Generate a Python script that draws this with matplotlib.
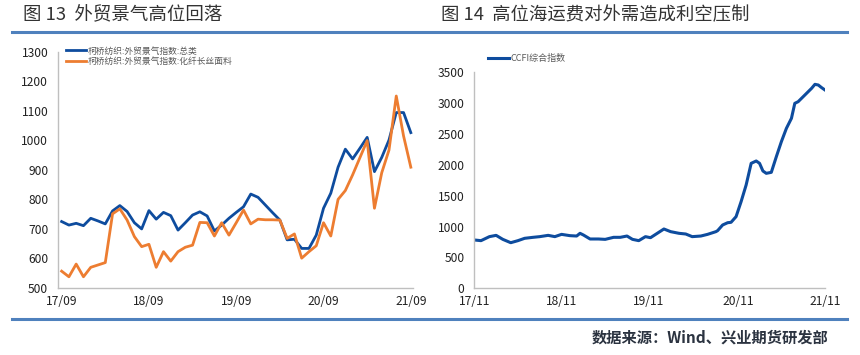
import matplotlib
matplotlib.use('Agg')
import matplotlib.pyplot as plt
from matplotlib.lines import Line2D
import pandas as pd

plt.rcParams['font.family'] = ['Noto Sans CJK SC', 'DejaVu Sans']

# 图13 柯桥纺织外贸景气指数 (月度, 17/09 - 21/09)
keqiao_labels = ['17/09', '18/09', '19/09', '20/09', '21/09']
keqiao_total = [725, 713, 719, 711, 736, 727, 717, 761, 779, 759, 721, 700,
                762, 733, 756, 745, 696, 721, 747, 758, 744, 693, 713, 736,
                756, 775, 818, 807, 781, 755, 730, 663, 665, 634, 634, 679,
                770, 821, 909, 970, 937, 973, 1010, 894, 942, 1001, 1094, 1094,
                1026]
keqiao_fiber = [557, 538, 581, 538, 570, 578, 586, 751, 768, 730, 674, 640,
                648, 570, 623, 591, 623, 638, 645, 722, 721, 676, 721, 679,
                721, 764, 717, 733, 731, 731, 730, 668, 683, 601, 623, 643,
                721, 676, 800, 830, 883, 941, 999, 770, 890, 967, 1150, 1015,
                909]

# 图14 CCFI综合指数
ccfi_dates = ['2017-11-03', '2017-12-01', '2018-01-05', '2018-02-02', '2018-03-02',
              '2018-04-04', '2018-05-04', '2018-06-01', '2018-07-06', '2018-08-03',
              '2018-09-07', '2018-10-05', '2018-11-02', '2018-12-07', '2019-01-04',
              '2019-01-18', '2019-02-01', '2019-03-01', '2019-04-05', '2019-05-03',
              '2019-06-07', '2019-07-05', '2019-08-02', '2019-08-25', '2019-09-20',
              '2019-10-18', '2019-11-08', '2020-01-03', '2020-01-31', '2020-03-06',
              '2020-04-03', '2020-04-30', '2020-06-05', '2020-07-03', '2020-08-07',
              '2020-08-14', '2020-09-04', '2020-09-25', '2020-10-09', '2020-10-30',
              '2020-11-20', '2020-12-11', '2021-01-01', '2021-01-22', '2021-02-05',
              '2021-02-19', '2021-03-05', '2021-03-26', '2021-04-16', '2021-05-07',
              '2021-05-28', '2021-06-18', '2021-07-02', '2021-07-16', '2021-08-06',
              '2021-08-27', '2021-09-10', '2021-09-24', '2021-10-08', '2021-10-22',
              '2021-11-05']
ccfi_values = [783, 772, 837, 858, 793, 739, 772, 810, 826, 837, 858, 837,
               874, 853, 847, 891, 864, 799, 799, 793, 826, 826, 847, 793, 772,
               837, 820, 961, 918, 891, 880, 837, 847, 874, 918, 934, 1026, 1063,
               1069, 1161, 1404, 1674, 2025, 2063, 2025, 1901, 1863, 1879, 2133,
               2376, 2592, 2754, 2997, 3024, 3105, 3186, 3240, 3305, 3294, 3251,
               3213]
ccfi_ticks = ['2017-11-03', '2018-11-02', '2019-11-01', '2020-11-06', '2021-11-05']
ccfi_labels = ['17/11', '18/11', '19/11', '20/11', '21/11']

W, H = 860, 355
blue = '#0e4c9e'
orange = '#ed7d31'
rule = '#4f81bd'
txt = '#333333'

fig = plt.figure(figsize=(W / 100, H / 100), dpi=100)


def style(ax):
    for s in ['top', 'right']:
        ax.spines[s].set_visible(False)
    for s in ['left', 'bottom']:
        ax.spines[s].set_color('#bfbfbf')
        ax.spines[s].set_linewidth(1)
    ax.tick_params(length=0, labelsize=8.7, colors='#222222')
    ax.tick_params(axis='y', pad=7)
    ax.tick_params(axis='x', pad=5)


ax1 = fig.add_axes([58 / W, 1 - 288 / H, 355 / W, 236.3 / H])
x = list(range(len(keqiao_total)))
ax1.plot(x, keqiao_total, color=blue, lw=2, label='柯桥纺织:外贸景气指数:总类')
ax1.plot(x, keqiao_fiber, color=orange, lw=2, label='柯桥纺织:外贸景气指数:化纤长丝面料')
ax1.set_xlim(-0.5, 48.3)
ax1.set_ylim(500, 1300)
ax1.set_yticks(range(500, 1301, 100))
ax1.set_xticks([0, 12, 24, 36, 48])
ax1.set_xticklabels(keqiao_labels)
style(ax1)
ax1.legend(loc='upper left', bbox_to_anchor=(66 / W, 1 - 46.5 / H),
           bbox_transform=fig.transFigure, frameon=False, fontsize=6.3,
           handlelength=2.3, handletextpad=0.2, labelspacing=0.15,
           borderpad=0, borderaxespad=0, labelcolor='#595959')

ax2 = fig.add_axes([474.3 / W, 1 - 288.3 / H, 350.7 / W, 216 / H])
d = pd.to_datetime(ccfi_dates)
ax2.plot(d, ccfi_values, color=blue, lw=2.2, label='CCFI综合指数')
ax2.set_xlim(pd.Timestamp('2017-11-03'), pd.Timestamp('2021-11-05'))
ax2.set_ylim(0, 3500)
ax2.set_yticks(range(0, 3501, 500))
ax2.set_xticks(pd.to_datetime(ccfi_ticks))
ax2.set_xticklabels(ccfi_labels)
style(ax2)
ax2.legend(loc='upper left', bbox_to_anchor=(488 / W, 1 - 54 / H),
           bbox_transform=fig.transFigure, frameon=False, fontsize=6.5,
           handlelength=2.3, handletextpad=0.2,
           borderpad=0, borderaxespad=0, labelcolor='#595959')

# titles, rules and source
fig.text(23 / W, 1 - 15 / H, '图 13  外贸景气高位回落', fontsize=13.3,
         color=txt, va='center', ha='left')
fig.text(441 / W, 1 - 15 / H, '图 14  高位海运费对外需造成利空压制', fontsize=13.2,
         color=txt, va='center', ha='left')
fig.add_artist(Line2D([12 / W, 847 / W], [1 - 31.5 / H] * 2, color=rule, lw=2.2))
fig.add_artist(Line2D([12 / W, 847 / W], [1 - 318.5 / H] * 2, color=rule, lw=2.2))
fig.text(828 / W, 1 - 338 / H, '数据来源：Wind、兴业期货研发部', fontsize=11,
         fontweight='bold', color='#2b3340', va='center', ha='right')

fig.savefig('out.png', dpi=100)
